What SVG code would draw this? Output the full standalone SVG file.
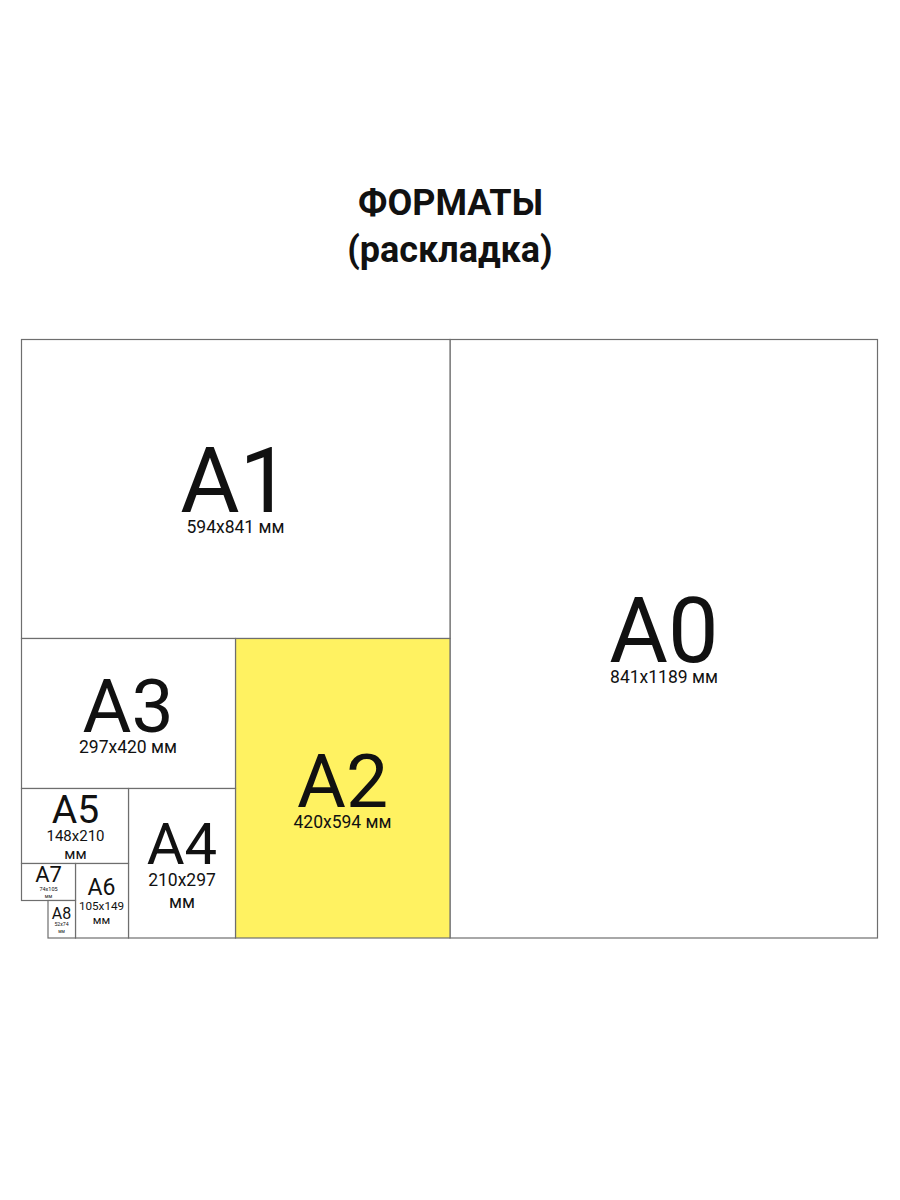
<svg xmlns="http://www.w3.org/2000/svg" width="900" height="1200" viewBox="0 0 900 1200">
<style>
.sheet{fill:#ffffff;stroke:#6e6e6e;stroke-width:1.2}
.yel{fill:#FFF261}
text{font-family:Roboto,"Liberation Sans",sans-serif;fill:#111;text-anchor:middle}
.title{font-weight:bold;font-size:36px}
</style>
<rect width="900" height="1200" fill="#ffffff"/>
<g id="title">
<text class="title" x="450.5" y="215">ФОРМАТЫ</text>
<text class="title" x="450" y="262">(раскладка)</text>
</g>
<g id="A0">
<rect class="sheet" x="450" y="339.5" width="427.5" height="598.5"/>
<text x="664" y="662" font-size="90">A0</text>
<text x="664" y="683" font-size="17.5">841x1189 мм</text>
</g>
<g id="A1">
<rect class="sheet" x="21.5" y="339.5" width="428.5" height="299"/>
<text x="235.5" y="512" font-size="91">A1</text>
<text x="235.5" y="533" font-size="17.5">594x841 мм</text>
</g>
<g id="A2">
<rect class="sheet yel" x="235.5" y="638.5" width="214.5" height="299.5"/>
<text x="342.5" y="807" font-size="75">A2</text>
<text x="342.5" y="828" font-size="17.5">420x594 мм</text>
</g>
<g id="A3">
<rect class="sheet" x="21.5" y="638.5" width="214" height="150"/>
<text x="128" y="732" font-size="75">A3</text>
<text x="128" y="753" font-size="17.5">297x420 мм</text>
</g>
<g id="A4">
<rect class="sheet" x="128.5" y="788.5" width="107" height="149.5"/>
<text x="182" y="864" font-size="58">A4</text>
<text x="182" y="886" font-size="17.5">210x297</text>
<text x="182" y="908" font-size="17.5">мм</text>
</g>
<g id="A5">
<rect class="sheet" x="21.5" y="788.5" width="107" height="75"/>
<text x="75.5" y="822.5" font-size="39">A5</text>
<text x="75.5" y="841" font-size="15">148x210</text>
<text x="75.5" y="859" font-size="15">мм</text>
</g>
<g id="A6">
<rect class="sheet" x="75.5" y="863.5" width="53" height="74.5"/>
<text x="101.5" y="895" font-size="23">A6</text>
<text x="101.5" y="910" font-size="11.7">105x149</text>
<text x="101.5" y="924" font-size="11.7">мм</text>
</g>
<g id="A7">
<rect class="sheet" x="21.5" y="863.5" width="54" height="37"/>
<text x="48.5" y="882" font-size="22">A7</text>
<text x="48.5" y="890.5" font-size="5.5">74x105</text>
<text x="48.5" y="897.5" font-size="5">мм</text>
</g>
<g id="A8">
<rect class="sheet" x="48" y="900.5" width="27.5" height="37.5"/>
<text x="61.5" y="919" font-size="16">A8</text>
<text x="61.5" y="926" font-size="5.2">52x74</text>
<text x="61.5" y="932.5" font-size="4.5">мм</text>
</g>
<g id="connectors"/>
</svg>
